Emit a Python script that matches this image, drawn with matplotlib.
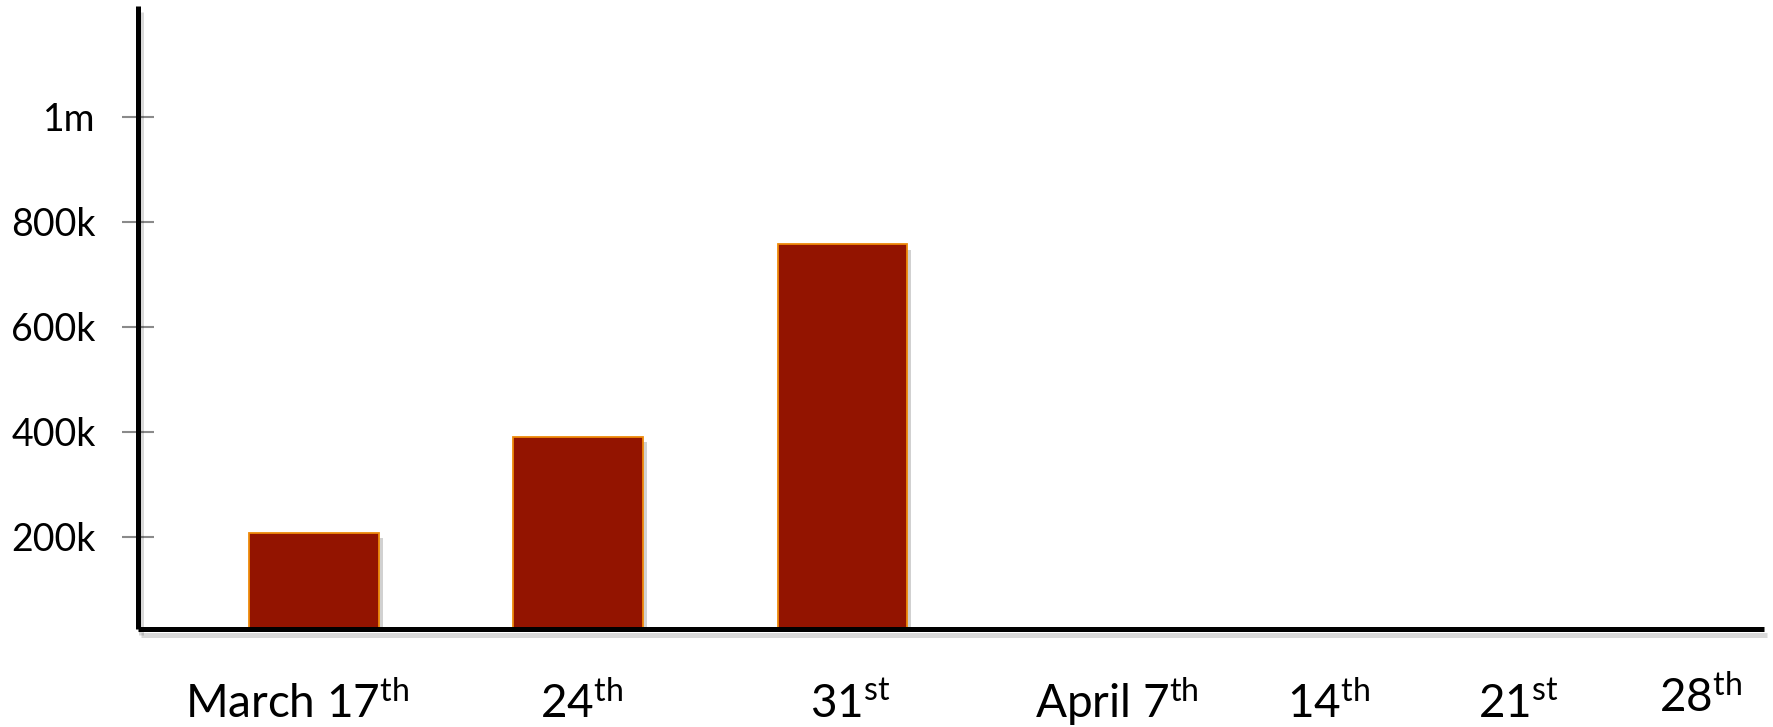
import numpy as np
import matplotlib
matplotlib.use("Agg")
import matplotlib.pyplot as plt
import matplotlib.patheffects as pe
from matplotlib.transforms import blended_transform_factory

plt.rcParams['font.family'] = ['Lato', 'DejaVu Sans']
plt.rcParams['mathtext.fontset'] = 'custom'
plt.rcParams['mathtext.rm'] = 'Lato'
plt.rcParams['mathtext.it'] = 'Lato'

# weekly values (only first three weeks reported)
weeks = ["March 17", "24", "31", "April 7", "14", "21", "28"]
suffixes = ["th", "th", "st", "th", "th", "st", "th"]
values = [208000, 391000, 757000]

ytick_vals = [200000, 400000, 600000, 800000, 1000000]
ytick_labels = ["200k", "400k", "600k", "800k", "1m"]

# where the week labels sit along the axis (in bar units)
label_pos = [-0.065, 1.014, 2.03, 3.04, 3.84, 4.56, 5.25]
label_y = [-0.143, -0.143, -0.143, -0.143, -0.143, -0.143, -0.133]

fig = plt.figure(figsize=(17.73, 7.27), dpi=100)
ax = fig.add_axes([0.0778, 0.1348, 0.9171, 0.8569])

bars = ax.bar(np.arange(len(values)), values, width=0.49,
              color='#931400', edgecolor='#EE8A0A', linewidth=1.3)
for b in bars:
    b.set_path_effects([pe.SimplePatchShadow(offset=(3, -4), shadow_rgbFace='k', alpha=0.18),
                        pe.Normal()])

ax.set_xlim(-0.667, 5.49)
ax.set_ylim(24800, 1211000)

for s in ['top', 'right']:
    ax.spines[s].set_visible(False)
for s in ['left', 'bottom']:
    ax.spines[s].set_linewidth(3.6)
    ax.spines[s].set_color('black')
    ax.spines[s].set_capstyle('butt')
    ax.spines[s].set_path_effects([pe.SimpleLineShadow(offset=(2, -4), alpha=0.15),
                                   pe.Normal()])

ax.set_xticks([])
ax.set_yticks(ytick_vals)
ax.set_yticklabels(ytick_labels, fontsize=27)
ax.tick_params(axis='y', direction='inout', length=23, width=1.5,
               color='#8a8a8a', pad=19)

trans = blended_transform_factory(ax.transData, ax.transAxes)
for x, yy, w, suf in zip(label_pos, label_y, weeks, suffixes):
    ax.text(x, yy, w + r"$^{\mathrm{" + suf + "}}$", transform=trans,
            ha='center', va='baseline', fontsize=33, clip_on=False)

fig.savefig("out.png", dpi=100, facecolor='white')
